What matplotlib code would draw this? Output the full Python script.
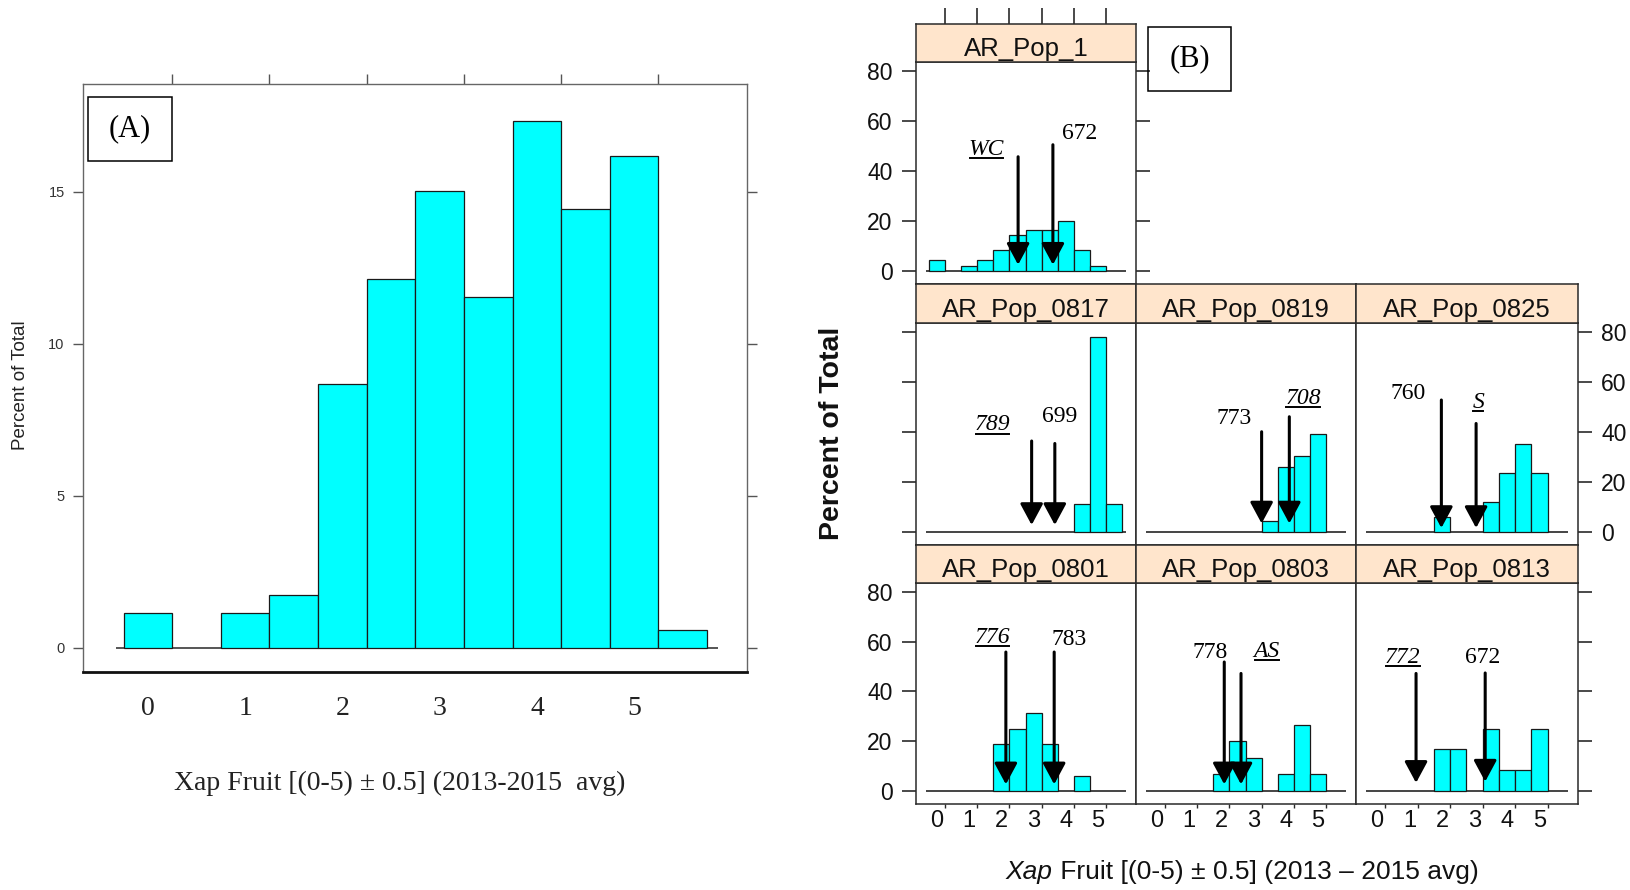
import matplotlib
matplotlib.use('Agg')
import matplotlib.pyplot as plt
from matplotlib import font_manager
from matplotlib.lines import Line2D
from matplotlib.patches import Rectangle
from matplotlib.transforms import IdentityTransform

W, H = 1631, 890

# ---------------- data ----------------
bin_centers = [0.0, 0.5, 1.0, 1.5, 2.0, 2.5, 3.0, 3.5, 4.0, 4.5, 5.0, 5.5]
bin_width = 0.5
x_tick_labels = ['0', '1', '2', '3', '4', '5']
y_ticks_A = [0, 5, 10, 15]
y_ticks_B = [0, 20, 40, 60, 80]

pct_all = [1.16, 0, 1.16, 1.73, 8.67, 12.14, 15.03, 11.56, 17.34, 14.45, 16.18, 0.58]

pop_1 = [4.4, 0, 2.1, 4.2, 8.2, 14.5, 16.2, 16.2, 20.0, 8.2, 2.1, 0]
pop_0817 = [0, 0, 0, 0, 0, 0, 0, 0, 0, 11.1, 77.8, 11.1]
pop_0819 = [0, 0, 0, 0, 0, 0, 0, 4.3, 26.1, 30.4, 39.1, 0]
pop_0825 = [0, 0, 0, 0, 5.9, 0, 0, 11.8, 23.5, 35.3, 23.5, 0]
pop_0801 = [0, 0, 0, 0, 18.75, 25.0, 31.25, 18.75, 0, 6.25, 0, 0]
pop_0803 = [0, 0, 0, 0, 6.7, 20.0, 13.3, 0, 6.7, 26.7, 6.7, 0]
pop_0813 = [0, 0, 0, 0, 16.7, 16.7, 0, 25.0, 8.3, 8.3, 25.0, 0]

panel_names = ['AR_Pop_1', 'AR_Pop_0817', 'AR_Pop_0819', 'AR_Pop_0825',
               'AR_Pop_0801', 'AR_Pop_0803', 'AR_Pop_0813']
panel_values = [pop_1, pop_0817, pop_0819, pop_0825, pop_0801, pop_0803, pop_0813]

# annotations: (label, italic+underlined, label x, label y, arrow x, arrow top, arrow tip)
annotations = {
    'AR_Pop_1': [('WC', True, 1.53, 48.4, 2.52, 45.6, 2.4),
                 ('672', False, 4.44, 55.0, 3.60, 50.4, 2.4)],
    'AR_Pop_0817': [('789', True, 1.72, 42.7, 2.94, 36.3, 2.7),
                    ('699', False, 3.82, 46.0, 3.66, 35.3, 2.7)],
    'AR_Pop_0819': [('773', False, 2.39, 45.3, 3.25, 40.0, 3.3),
                    ('708', True, 4.54, 53.3, 4.11, 46.0, 3.3)],
    'AR_Pop_0825': [('760', False, 0.97, 55.3, 1.98, 52.7, 1.5),
                    ('S', True, 3.12, 51.7, 3.05, 43.3, 1.5)],
    'AR_Pop_0801': [('776', True, 1.72, 61.8, 2.14, 55.8, 2.7),
                    ('783', False, 4.11, 60.7, 3.64, 55.8, 2.7)],
    'AR_Pop_0803': [('778', False, 1.65, 55.8, 2.09, 51.8, 2.7),
                    ('AS', True, 3.41, 56.2, 2.61, 47.2, 2.7)],
    'AR_Pop_0813': [('772', True, 0.79, 53.8, 1.20, 47.2, 3.3),
                    ('672', False, 3.25, 53.8, 3.33, 47.4, 3.8)],
}

# ---------------- styles ----------------
CYAN = '#00FFFF'
EDGE = '#1a1a1a'
STRIP = '#ffe5cc'
SERIF = 'Liberation Serif'
SANS = 'Liberation Sans'


def has_font(name):
    try:
        font_manager.findfont(font_manager.FontProperties(family=name),
                              fallback_to_default=False)
        return True
    except Exception:
        return False


NARROW = has_font('Liberation Sans Narrow')
COND = 'Liberation Sans Narrow' if NARROW else SANS
strip_size = 22.5 if NARROW else 18.5
xlabB_size = 23 if NARROW else 19

fig = plt.figure(figsize=(W / 100, H / 100), dpi=100)


def px_rect(x0, y0, x1, y1):
    return [x0 / W, 1 - y1 / H, (x1 - x0) / W, (y1 - y0) / H]


def fx(x):
    return x / W


def fy(y):
    return 1 - y / H


underlined = []

# ---------------- panel A ----------------
axA = fig.add_axes(px_rect(82.7, 84.3, 747, 672.3))
axA.set_xlim(-0.67, 6.16)
axA.set_ylim(-0.8, 18.54)
axA.hlines(0, -0.33, 5.86, colors='#555555', lw=1.4, zorder=2)
xs = [c for c, v in zip(bin_centers, pct_all) if v > 0]
vs = [v for v in pct_all if v > 0]
axA.bar(xs, vs, width=bin_width, color=CYAN, edgecolor=EDGE, linewidth=0.9, zorder=3)
for s in ['left', 'top', 'right']:
    axA.spines[s].set_color('#666666')
    axA.spines[s].set_linewidth(1.0)
axA.spines['bottom'].set_color('#111111')
axA.spines['bottom'].set_linewidth(2.0)
axA.set_yticks(y_ticks_A)
axA.tick_params(axis='y', left=True, right=True, labelleft=True, labelright=False,
                length=7, width=1, color='#555555', labelsize=10.5,
                labelcolor='#333333', pad=6)
for lab in axA.get_yticklabels():
    lab.set_fontfamily(SANS)
axA.set_xticks(range(len(x_tick_labels)))
axA.set_xticklabels(x_tick_labels)
axA.tick_params(axis='x', which='major', bottom=True, top=False, length=0,
                pad=17, labelsize=20, labelcolor='#222222')
for lab in axA.get_xticklabels():
    lab.set_fontfamily(SERIF)
axA.set_xticks([k + 0.25 for k in range(6)], minor=True)
axA.tick_params(axis='x', which='minor', bottom=False, top=True, length=7,
                width=1, color='#555555')

fig.text(fx(21), fy(385), 'Percent of Total', rotation=90, ha='center', va='center',
         family=SANS, size=13.5, color='#222222')
fig.text(fx(400), fy(783), 'Xap Fruit [(0-5) \u00b1 0.5] (2013-2015  avg)',
         ha='center', va='center', family=SERIF, size=20, color='#222222')
fig.add_artist(Rectangle((fx(88.3), fy(161)), (172.3 - 88.3) / W, (161 - 97) / H,
                         transform=fig.transFigure, fill=False, ec='black', lw=1.1))
fig.text(fx(130), fy(129), '(A)', ha='center', va='center', family=SERIF, size=22)

# ---------------- panel B ----------------
cols_x = [(916, 1136), (1136, 1356), (1356, 1577.7)]
rows_y = [(24, 62, 284), (284, 323, 545), (545, 583, 804.3)]
grid = [(0, 0), (1, 0), (1, 1), (1, 2), (2, 0), (2, 1), (2, 2)]
XLIM = (-0.65, 6.18)
YLIM = (-5.3, 83.5)
FRAME = '#2a2a2a'

for name, vals, (r, c) in zip(panel_names, panel_values, grid):
    x0, x1 = cols_x[c]
    st, sb, pb = rows_y[r]
    ax = fig.add_axes(px_rect(x0, sb, x1, pb))
    ax.set_xlim(*XLIM)
    ax.set_ylim(*YLIM)
    ax.hlines(0, -0.34, 5.87, colors='#444444', lw=1.4, zorder=2)
    xs = [cc for cc, v in zip(bin_centers, vals) if v > 0]
    vs = [v for v in vals if v > 0]
    ax.bar(xs, vs, width=bin_width, color=CYAN, edgecolor=EDGE, linewidth=0.9, zorder=3)
    for s in ax.spines.values():
        s.set_color(FRAME)
        s.set_linewidth(1.1)

    # y axis
    left = (c == 0)
    right = (c == 2) or (r == 0)
    if left or right:
        ax.set_yticks(y_ticks_B)
        ax.tick_params(axis='y', left=left, right=right,
                       labelleft=left and r != 1, labelright=(r == 1 and c == 2),
                       length=10, width=1.2, color=FRAME, labelsize=16.5,
                       labelcolor='#111111', pad=7)
        for lab in ax.get_yticklabels():
            lab.set_fontfamily(SANS)
    else:
        ax.set_yticks([])

    # x axis
    if r == 2:
        ax.set_xticks(range(len(x_tick_labels)))
        ax.set_xticklabels(x_tick_labels)
        ax.tick_params(axis='x', which='major', length=0, pad=4, labelsize=17,
                       labelcolor='#111111')
        for lab in ax.get_xticklabels():
            lab.set_fontfamily(SANS)
        ax.set_xticks([k + 0.25 for k in range(6)], minor=True)
        ax.tick_params(axis='x', which='minor', bottom=True, length=3, width=1,
                       color=FRAME)
    else:
        ax.set_xticks([])

    # arrows and labels
    for lab, ital, lx, ly, axx, atop, atip in annotations[name]:
        ax.annotate('', xy=(axx, atip), xytext=(axx, atop),
                    arrowprops=dict(arrowstyle='-|>,head_length=0.65,head_width=0.35',
                                    lw=2.2, color='black', shrinkA=0, shrinkB=0,
                                    mutation_scale=20), zorder=5)
        t = ax.text(lx, ly, lab, ha='center', va='center', family=SERIF, size=17,
                    style='italic' if ital else 'normal', color='black', zorder=6)
        if ital:
            underlined.append(t)

    # strip
    sax = fig.add_axes(px_rect(x0, st, x1, sb))
    sax.set_facecolor(STRIP)
    sax.set_xlim(*XLIM)
    sax.set_ylim(0, 1)
    for s in sax.spines.values():
        s.set_color(FRAME)
        s.set_linewidth(1.1)
    sax.set_yticks([])
    if r == 0:
        sax.set_xticks([k + 0.25 for k in range(6)])
        sax.tick_params(axis='x', bottom=False, top=True, labelbottom=False,
                        labeltop=False, length=11.5, width=1.2, color=FRAME)
    else:
        sax.set_xticks([])
    sax.text(0.5, 6.0 / (sb - st), name, transform=sax.transAxes, ha='center',
             va='baseline', family=COND, size=strip_size, color='#111111')

# (B) box
fig.add_artist(Rectangle((fx(1148.3), fy(91)), (1231 - 1148.3) / W, (91 - 27.3) / H,
                         transform=fig.transFigure, fill=False, ec='black', lw=1.1))
fig.text(fx(1189.5), fy(59), '(B)', ha='center', va='center', family=SERIF, size=22)

# B axis labels
fig.text(fx(832), fy(433), 'Percent of Total', rotation=90, ha='center', va='center',
         family=SANS, weight='bold', size=20.5, color='#111111')
t1 = fig.text(0, fy(872), 'Xap', ha='left', va='center', family=COND, style='italic',
              size=xlabB_size, color='#111111')
t2 = fig.text(0, fy(872), ' Fruit [(0-5) \u00b1 0.5] (2013 \u2013 2015 avg)', ha='left',
              va='center', family=COND, size=xlabB_size, color='#111111')

fig.canvas.draw()
renderer = fig.canvas.get_renderer()
w1 = t1.get_window_extent(renderer).width
w2 = t2.get_window_extent(renderer).width
start = 1242 - (w1 + w2) / 2
t1.set_x(fx(start))
t2.set_x(fx(start + w1))

for t in underlined:
    bb = t.get_window_extent(renderer)
    yline = bb.y0 + 2
    fig.add_artist(Line2D([bb.x0 + 1, bb.x1 - 1], [yline, yline], color='black', lw=1.4,
                          transform=IdentityTransform()))

fig.savefig('out.png', dpi=100)
